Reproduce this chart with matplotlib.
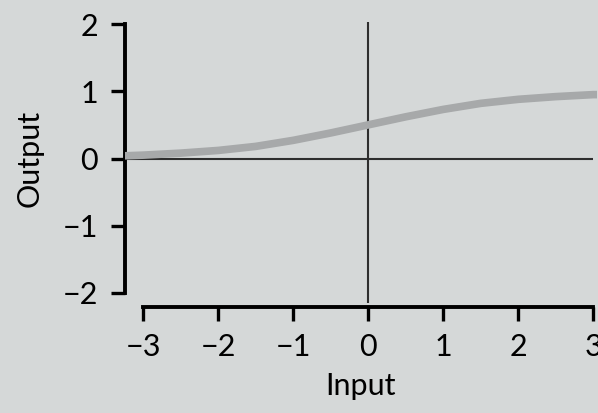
import numpy as np
import matplotlib.pyplot as plt

# values
x_in = [-3.25, -3.0, -2.5, -2.0, -1.5, -1.0, -0.5, 0.0, 0.5, 1.0, 1.5, 2.0, 2.5, 3.0, 3.05]
y_out = [0.04, 0.05, 0.08, 0.12, 0.18, 0.27, 0.38, 0.50, 0.62, 0.73, 0.82, 0.88, 0.92, 0.95, 0.95]
x_ticks = [-3, -2, -1, 0, 1, 2, 3]
y_ticks = [-2, -1, 0, 1, 2]
x_labels = ["\u22123", "\u22122", "\u22121", "0", "1", "2", "3"]
y_labels = ["\u22122", "\u22121", "0", "1", "2"]

bg = "#d5d8d8"
plt.rcParams["font.family"] = ["Lato", "DejaVu Sans"]

W, H = 598, 413
fig = plt.figure(figsize=(W / 100, H / 100), dpi=100, facecolor=bg)
# axes box in pixels: left 124, right 597, top 24, bottom 293
ax = fig.add_axes([124.5 / W, (H - 293) / H, (597 - 124.5) / W, (293 - 24) / H])
ax.set_facecolor(bg)
ax.patch.set_alpha(0)

ax.set_xlim(-3.25, 3.05)
ax.set_ylim(-2, 2)

ax.hlines(0, -3.25, 3.0, color="#2e2e2e", lw=1.5, zorder=2)
ax.vlines(0, -2.15, 2.03, color="#2e2e2e", lw=1.5, zorder=2, clip_on=False)
ax.plot(x_in, y_out, color="#a7a9aa", lw=5.5, solid_capstyle="butt", zorder=3)

for s in ["top", "right"]:
    ax.spines[s].set_visible(False)
ax.spines["left"].set_linewidth(2.8)
ax.spines["bottom"].set_linewidth(2.8)
ax.spines["bottom"].set_position(("outward", 10))
ax.spines["bottom"].set_bounds(-3, 3)
ax.spines["left"].set_bounds(-2, 2)

ax.set_xticks(x_ticks, x_labels)
ax.set_yticks(y_ticks, y_labels)
ax.tick_params(axis="both", length=10, width=2.4, labelsize=22, color="black")
ax.tick_params(axis="x", pad=9)
ax.tick_params(axis="y", pad=9)

ax.set_xlabel("Input", fontsize=22, labelpad=8)
ax.set_ylabel("Output", fontsize=22, labelpad=14)

fig.savefig("out.png", dpi=100, facecolor=bg)
